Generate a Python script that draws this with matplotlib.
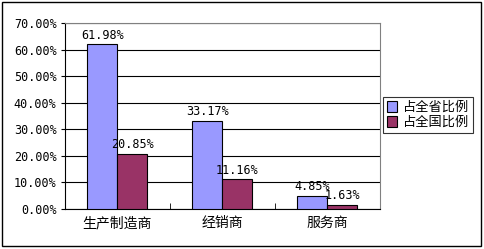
import numpy as np
import matplotlib.pyplot as plt
from matplotlib.patches import Rectangle

plt.rcParams['font.family'] = ['Noto Sans CJK SC', 'DejaVu Sans']

categories = ['生产制造商', '经销商', '服务商']
series_names = ['占全省比例', '占全国比例']
province_pct = [61.98, 33.17, 4.85]
national_pct = [20.85, 11.16, 1.63]
colors = ['#9999FF', '#993366']
yticks = [0, 10, 20, 30, 40, 50, 60, 70]

fig = plt.figure(figsize=(4.84, 2.49), dpi=100)
ax = fig.add_axes([0.134, 0.1606, 0.651, 0.747])

x = np.arange(len(categories))
w = 0.2857
mono = 'DejaVu Sans Mono'

for i, (vals, c, name) in enumerate(zip([province_pct, national_pct], colors, series_names)):
    pos = x + (i - 0.5) * w
    ax.bar(pos, vals, width=w, color=c, edgecolor='black', linewidth=0.8, label=name, zorder=3)
    for px, v in zip(pos, vals):
        ax.text(px, v + 1.0, '%.2f%%' % v, ha='center', va='bottom',
                fontsize=8.5, family=mono, zorder=4)

ax.set_xlim(-0.5, len(categories) - 0.5)
ax.set_ylim(0, 70)
ax.set_yticks(yticks)
ax.set_yticklabels(['%.2f%%' % t for t in yticks], family=mono, fontsize=8.5)
ax.set_xticks(x)
ax.set_xticklabels(categories, fontsize=10)
ax.tick_params(axis='x', length=0, pad=5)
ax.tick_params(axis='y', length=3, direction='out', pad=3)
ax.set_xticks(np.arange(0.5, len(categories) - 0.5, 1), minor=True)
ax.tick_params(axis='x', which='minor', length=4, direction='in')
ax.yaxis.grid(True, color='black', linewidth=0.8, zorder=0)
ax.set_axisbelow(True)

for side in ['top', 'right']:
    ax.spines[side].set_color('#808080')
    ax.spines[side].set_linewidth(0.8)
ax.spines['left'].set_linewidth(0.8)
ax.spines['bottom'].set_linewidth(0.8)

leg = fig.legend(loc='upper left', bbox_to_anchor=(0.791, 0.61), fontsize=9.5,
                 frameon=True, fancybox=False, edgecolor='black',
                 handlelength=0.8, handleheight=0.8, handletextpad=0.4,
                 borderpad=0.3, labelspacing=0.15, borderaxespad=0)
leg.get_frame().set_linewidth(0.8)

fig.patches.append(Rectangle((0.004, 0.012), 0.99, 0.98, transform=fig.transFigure,
                             fill=False, edgecolor='black', linewidth=1))

fig.savefig('out.png', dpi=100)
